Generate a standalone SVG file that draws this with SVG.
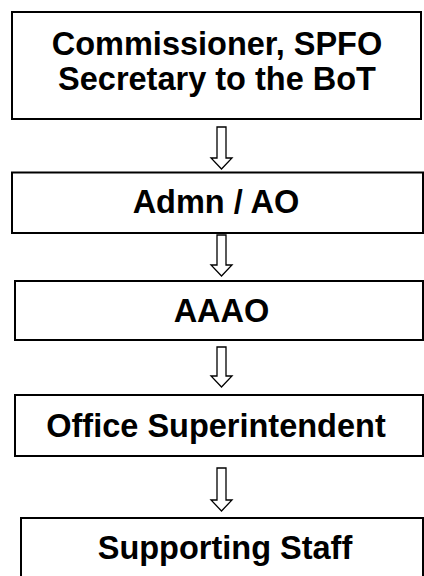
<svg xmlns="http://www.w3.org/2000/svg" width="424" height="576" viewBox="0 0 424 576">
<style>
.box{fill:#fff;stroke:#000;stroke-width:2}
.lbl{font-family:"Liberation Sans",Arial,sans-serif;font-weight:bold;font-size:32.5px;fill:#000;text-anchor:middle}
.arr{fill:#fff;stroke:#000;stroke-width:1.3;stroke-linejoin:miter}
</style>
<rect width="424" height="576" fill="#fff"/>
<g id="connectors">
<path class="arr" d="M217,127 H226 V158 H232 L221.5,169 L211,158 H217 Z"/>
<path class="arr" d="M217,235 H226 V265 H232 L221.5,276 L211,265 H217 Z"/>
<path class="arr" d="M217,347 H226 V376 H232 L221.5,387 L211,376 H217 Z"/>
<path class="arr" d="M217,468 H226 V500 H232 L221.5,511 L211,500 H217 Z"/>
</g>
<g id="node1">
<rect class="box" x="12" y="12" width="409" height="107"/>
<text class="lbl" x="217" y="55">Commissioner, SPFO</text>
<text class="lbl" x="217" y="90">Secretary to the BoT</text>
</g>
<g id="node2">
<rect class="box" x="12" y="172.5" width="411" height="60.5"/>
<text class="lbl" x="216" y="213">Admn / AO</text>
</g>
<g id="node3">
<rect class="box" x="15" y="281" width="408" height="59"/>
<text class="lbl" x="221.5" y="322">AAAO</text>
</g>
<g id="node4">
<rect class="box" x="15" y="395" width="408" height="61"/>
<text class="lbl" x="216" y="437">Office Superintendent</text>
</g>
<g id="node5">
<rect class="box" x="21" y="518" width="402" height="80"/>
<text class="lbl" x="225" y="559">Supporting Staff</text>
</g>
</svg>
